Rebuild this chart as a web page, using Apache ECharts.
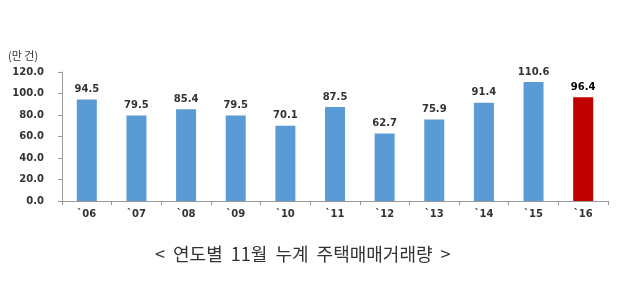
<!DOCTYPE html>
<html><head><meta charset="utf-8">
<script src="https://cdn.jsdelivr.net/npm/echarts@6/dist/echarts.min.js"></script>
<style>html,body{margin:0;padding:0;background:#fff}#c{width:630px;height:301px}</style>
</head><body><div id="c"></div>
<script>
var categories = ["`06","`07","`08","`09","`10","`11","`12","`13","`14","`15","`16"];
var values = [94.5,79.5,85.4,79.5,70.1,87.5,62.7,75.9,91.4,110.6,96.4];
var yTicks = [0,20,40,60,80,100,120];
var highlightIndex = 10;

var chart = echarts.init(document.getElementById('c'));
var font = "'Noto Sans CJK KR', 'Noto Sans', sans-serif";
var numFont = "'DejaVu Sans', Verdana, sans-serif";
chart.setOption({
  animation:false,
  grid:{left:62,right:22,top:72,bottom:100},
  graphic:[
    {type:'text',left:8,top:50,style:{text:'(만 건)',font:"11px "+font,fill:'#333'}},
    {type:'text',left:155,top:245,style:{text:'<  연도별  11월  누계  주택매매거래량  >',font:"18px "+font,fill:'#333'}}
  ],
  xAxis:{type:'category',data:categories,
    axisLine:{lineStyle:{color:'#999'}},
    axisTick:{show:true,alignWithLabel:false,length:4,lineStyle:{color:'#999'}},
    axisLabel:{color:'#333',fontSize:10,fontWeight:'bold',fontFamily:numFont,margin:8}},
  yAxis:{type:'value',min:0,max:120,interval:20,
    splitLine:{show:false},
    axisLine:{show:true,lineStyle:{color:'#999'}},
    axisTick:{show:true,length:4,lineStyle:{color:'#999'}},
    axisLabel:{color:'#333',fontSize:10,fontWeight:'bold',fontFamily:numFont,margin:18,
      formatter:function(v){return yTicks.indexOf(v)>=0? v.toFixed(1):'';}}},
  series:[{type:'bar',barWidth:20,
    data:values.map(function(v,i){
      return {value:v,itemStyle:{color:i===highlightIndex?'#C00000':'#5B9BD5'},
        label:{fontWeight:'bold',color:i===highlightIndex?'#000':'#333',fontSize:10}};
    }),
    label:{show:true,position:'top',distance:5,fontFamily:numFont,
      formatter:function(p){return p.value.toFixed(1);}}
  }]
});
</script></body></html>
